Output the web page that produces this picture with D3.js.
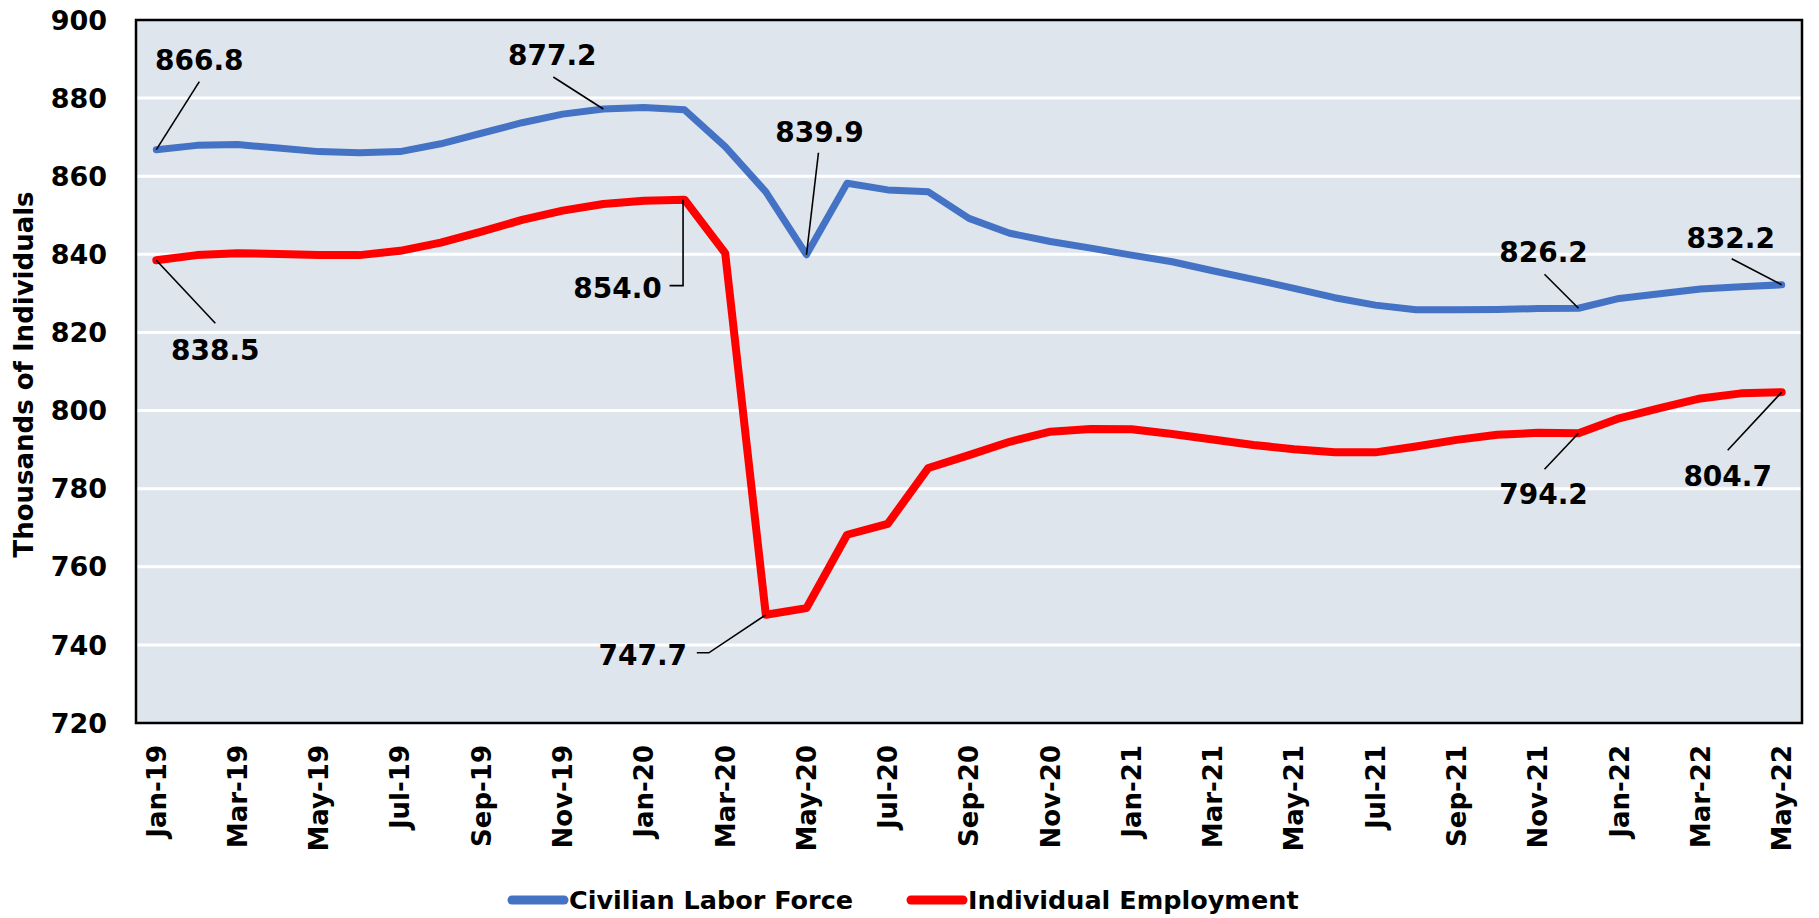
<html lang="en">
<head>
<meta charset="UTF-8"/>
<title>Civilian Labor Force and Individual Employment</title>
<script src="https://d3js.org/d3.v7.min.js"></script>
<style>
  body { margin: 0; background: #fff; }
  svg text { font-family: "DejaVu Sans", sans-serif; font-weight: bold; fill: #000; }
  .ytick { font-size: 27px; }
  .xtick { font-size: 26px; }
  .ytitle { font-size: 26px; }
  .dlabel { font-size: 28px; }
  .legend text { font-size: 25.5px; }
</style>
</head>
<body>
<script>
  // months Jan-19 .. May-22
  var months = ["Jan-19","Feb-19","Mar-19","Apr-19","May-19","Jun-19","Jul-19","Aug-19","Sep-19","Oct-19","Nov-19","Dec-19",
    "Jan-20","Feb-20","Mar-20","Apr-20","May-20","Jun-20","Jul-20","Aug-20","Sep-20","Oct-20","Nov-20","Dec-20",
    "Jan-21","Feb-21","Mar-21","Apr-21","May-21","Jun-21","Jul-21","Aug-21","Sep-21","Oct-21","Nov-21","Dec-21",
    "Jan-22","Feb-22","Mar-22","Apr-22","May-22"];

  var laborForce = [866.8, 867.9, 868.1, 867.2, 866.3, 866.0, 866.3, 868.3, 871.0, 873.7, 875.9, 877.2,
    877.6, 877.0, 867.6, 856.0, 839.9, 858.2, 856.5, 856.0, 849.2, 845.4, 843.3, 841.6,
    839.8, 838.1, 835.8, 833.6, 831.3, 828.9, 827.0, 825.8, 825.8, 825.9, 826.1, 826.2,
    828.7, 829.9, 831.1, 831.7, 832.2];

  var employment = [838.5, 839.8, 840.3, 840.1, 839.8, 839.8, 840.9, 843.0, 845.8, 848.8, 851.2, 852.9,
    853.7, 854.0, 840.3, 747.7, 749.4, 768.2, 771.0, 785.3, 788.6, 792.0, 794.6, 795.3,
    795.2, 794.0, 792.6, 791.2, 790.1, 789.3, 789.3, 790.8, 792.5, 793.8, 794.3, 794.2,
    798.0, 800.6, 803.1, 804.4, 804.7];

  var yTicks = [720, 740, 760, 780, 800, 820, 840, 860, 880, 900];
  var seriesNames = ["Civilian Labor Force", "Individual Employment"];

  var W = 1819, H = 918;
  var plot = {left: 136, top: 20, right: 1802, bottom: 723};

  var x = d3.scaleBand().domain(months).range([plot.left, plot.right]);
  var y = d3.scaleLinear().domain([720, 900]).range([plot.bottom, plot.top]);
  function px(i) { return x(months[i]) + x.bandwidth() / 2; }

  var svg = d3.select("body").append("svg")
    .attr("width", W).attr("height", H);

  // plot background
  svg.append("rect")
    .attr("x", plot.left).attr("y", plot.top)
    .attr("width", plot.right - plot.left).attr("height", plot.bottom - plot.top)
    .attr("fill", "#dee5ec");

  // gridlines
  svg.append("g").selectAll("line")
    .data(yTicks.slice(1, -1))
    .enter().append("line")
    .attr("x1", plot.left).attr("x2", plot.right)
    .attr("y1", function(d) { return y(d); }).attr("y2", function(d) { return y(d); })
    .attr("stroke", "#fff").attr("stroke-width", 3);

  // y tick labels
  svg.append("g").selectAll("text")
    .data(yTicks)
    .enter().append("text")
    .attr("class", "ytick")
    .attr("x", 107)
    .attr("y", function(d) { return y(d); })
    .attr("dy", "0.36em")
    .attr("text-anchor", "end")
    .text(function(d) { return d; });

  // x tick labels, every other month
  svg.append("g").selectAll("text")
    .data(months.filter(function(d, i) { return i % 2 === 0; }))
    .enter().append("text")
    .attr("class", "xtick")
    .attr("transform", function(d) { return "translate(" + (x(d) + x.bandwidth() / 2) + ",745) rotate(-90)"; })
    .attr("dy", "0.36em")
    .attr("text-anchor", "end")
    .text(function(d) { return d; });

  // y axis title
  svg.append("text")
    .attr("class", "ytitle")
    .attr("transform", "translate(33," + ((plot.top + plot.bottom) / 2 + 3) + ") rotate(-90)")
    .attr("text-anchor", "middle")
    .text("Thousands of Individuals");

  var line = d3.line()
    .x(function(d, i) { return px(i); })
    .y(function(d) { return y(d); });

  svg.append("path").datum(employment)
    .attr("d", line).attr("fill", "none")
    .attr("stroke", "#ff0000").attr("stroke-width", 8)
    .attr("stroke-linejoin", "round").attr("stroke-linecap", "round");

  svg.append("path").datum(laborForce)
    .attr("d", line).attr("fill", "none")
    .attr("stroke", "#4472c4").attr("stroke-width", 7)
    .attr("stroke-linejoin", "round").attr("stroke-linecap", "round");

  // plot border
  svg.append("rect")
    .attr("x", plot.left).attr("y", plot.top)
    .attr("width", plot.right - plot.left).attr("height", plot.bottom - plot.top)
    .attr("fill", "none").attr("stroke", "#000").attr("stroke-width", 2.5);

  // data labels with leader lines (offsets from the point)
  var notes = [
    {s: laborForce, i: 0,  lx: 43,   ly: -80, path: [[43, -68], [0, 0]]},
    {s: laborForce, i: 11, lx: -51,  ly: -44, path: [[-50, -32], [0, 0]]},
    {s: laborForce, i: 16, lx: 13,   ly: -113, path: [[12, -102], [0, 0]]},
    {s: laborForce, i: 35, lx: -35,  ly: -46, path: [[-34, -34], [0, 0]]},
    {s: laborForce, i: 40, lx: -51,  ly: -37, path: [[-50, -26], [0, 0]]},
    {s: employment, i: 0,  lx: 59,   ly: 100, path: [[59, 63], [0, 0]]},
    {s: employment, i: 13, lx: -67,  ly: 98,  path: [[-15, 86], [-1.5, 86], [-1.5, 0]]},
    {s: employment, i: 15, lx: -123, ly: 50,  path: [[-69, 38], [-57, 38], [0, 0]]},
    {s: employment, i: 35, lx: -35,  ly: 71,  path: [[-34, 36], [0, 0]]},
    {s: employment, i: 40, lx: -54,  ly: 94,  path: [[-54, 58], [0, 0]]}
  ];

  var ng = svg.append("g");
  notes.forEach(function(n) {
    var cx = px(n.i), cy = y(n.s[n.i]);
    ng.append("path")
      .attr("d", d3.line()(n.path.map(function(p) { return [cx + p[0], cy + p[1]]; })))
      .attr("fill", "none").attr("stroke", "#000").attr("stroke-width", 1.6);
    ng.append("text")
      .attr("class", "dlabel")
      .attr("x", cx + n.lx).attr("y", cy + n.ly)
      .attr("text-anchor", "middle")
      .text(d3.format(".1f")(n.s[n.i]));
  });

  // legend
  var legend = svg.append("g").attr("class", "legend");
  var legendItems = [
    {name: seriesNames[0], color: "#4472c4", x: 512},
    {name: seriesNames[1], color: "#ff0000", x: 911}
  ];
  legendItems.forEach(function(d) {
    legend.append("line")
      .attr("x1", d.x).attr("x2", d.x + 52)
      .attr("y1", 900).attr("y2", 900)
      .attr("stroke", d.color).attr("stroke-width", 9).attr("stroke-linecap", "round");
    legend.append("text")
      .attr("x", d.x + 57).attr("y", 909)
      .text(d.name);
  });
</script>
</body>
</html>
